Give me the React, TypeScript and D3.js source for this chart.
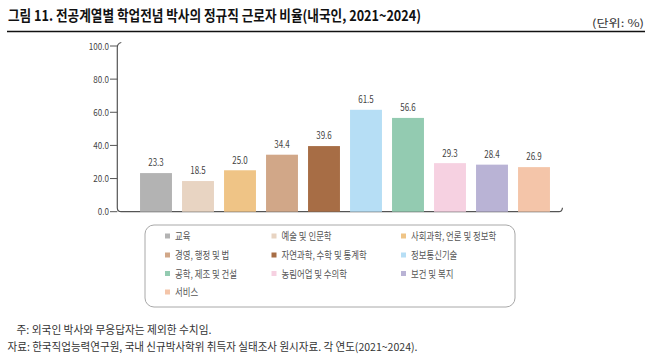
import React from 'react';
import * as d3 from 'd3';

const categories = ['교육', '예술 및 인문학', '사회과학, 언론 및 정보학', '경영, 행정 및 법', '자연과학, 수학 및 통계학', '정보통신기술', '공학, 제조 및 건설', '농림어업 및 수의학', '보건 및 복지', '서비스'];
const values = [23.3, 18.5, 25.0, 34.4, 39.6, 61.5, 56.6, 29.3, 28.4, 26.9];
const colors = ['#b3b3b3', '#e8d4c2', '#efc486', '#d1a788', '#a76d45', '#b6def5', '#93cbb1', '#f6d1e1', '#b9b3d5', '#f4c5a9'];
const yTicks = [0, 20, 40, 60, 80, 100];
const title = '그림 11. 전공계열별 학업전념 박사의 정규직 근로자 비율(내국인, 2021~2024)';
const unitText = '(단위: %)';
const note1 = '주: 외국인 박사와 무응답자는 제외한 수치임.';
const note2 = '자료: 한국직업능력연구원, 국내 신규박사학위 취득자 실태조사 원시자료. 각 연도(2021~2024).';

const FONT = '"Noto Sans CJK KR", "Noto Sans", sans-serif';

function SText({ x, y, s = 0.82, size = 10, fill = '#444', anchor = 'start', weight = 'normal', children }: any) {
  return (
    <text
      transform={`translate(${x},${y}) scale(${s},1)`}
      fontSize={size}
      fill={fill}
      textAnchor={anchor}
      fontWeight={weight}
      fontFamily={FONT}
      dominantBaseline="central"
    >
      {children}
    </text>
  );
}

export default function App() {
  const x = d3.scaleBand<number>().domain(d3.range(categories.length)).range([135, 555]).paddingInner(0.24).paddingOuter(0.12);
  const y = d3.scaleLinear().domain([0, 100]).range([211.7, 46]);
  const axisX = 117.3;
  const y0 = y(0);
  const y100 = y(100);
  const axisPath = `M${axisX + 4},${y100 - 3.5} Q${axisX},${y100 - 2.5} ${axisX},${y100 + 1.5} L${axisX},${y0 - 4} Q${axisX},${y0} ${axisX + 4},${y0} L559,${y0} Q562,${y0} 562.5,${y0 - 4}`;

  const legendCols = [165, 271.5, 401];
  const legendRows = [236, 255, 273.5, 292];

  return (
    <svg width={651} height={357} style={{ position: 'absolute', left: 0, top: 0, background: '#fff' }}>
      <rect width={651} height={357} fill="#fff" />
      {/* title */}
      <text x={8} y={14} fontSize={14.5} fontWeight="bold" fontFamily={FONT} fill="#111" dominantBaseline="central" textLength={413} lengthAdjust="spacingAndGlyphs">
        {title}
      </text>
      <text x={592} y={22} fontSize={10.5} fontFamily={FONT} fill="#333" dominantBaseline="central" textLength={52} lengthAdjust="spacingAndGlyphs">
        {unitText}
      </text>
      <line x1={7} x2={645} y1={31.5} y2={31.5} stroke="#111" strokeWidth={1.6} />

      {/* axes */}
      <path d={axisPath} fill="none" stroke="#555" strokeWidth={1.2} />
      {yTicks.map((t) => (
        <g key={t}>
          <line x1={110} x2={axisX} y1={y(t)} y2={y(t)} stroke="#555" strokeWidth={1} />
          <SText x={109} y={y(t)} anchor="end" size={9.5} s={0.85} fill="#444">
            {t.toFixed(1)}
          </SText>
        </g>
      ))}

      {/* bars */}
      {values.map((v, i) => (
        <g key={i}>
          <rect x={x(i)} y={y(v)} width={x.bandwidth()} height={y0 - y(v)} fill={colors[i]} />
          <SText x={(x(i) as number) + x.bandwidth() / 2} y={y(v) - 10.5} anchor="middle" size={10} s={0.8} fill="#444">
            {v.toFixed(1)}
          </SText>
        </g>
      ))}

      {/* legend */}
      <rect x={145} y={225} width={370} height={82} rx={9} ry={9} fill="none" stroke="#a8a8a8" strokeWidth={1} />
      {categories.map((c, i) => {
        const col = i % 3;
        const row = Math.floor(i / 3);
        const lx = legendCols[col];
        const ly = legendRows[row];
        return (
          <g key={c}>
            <rect x={lx} y={ly - 2.5} width={5} height={5} fill={colors[i]} />
            <SText x={lx + 10} y={ly} size={10.5} s={0.8} fill="#555">
              {c}
            </SText>
          </g>
        );
      })}

      {/* notes */}
      <text x={16.5} y={329} fontSize={11} fontFamily={FONT} fill="#333" dominantBaseline="central" textLength={195} lengthAdjust="spacingAndGlyphs">
        {note1}
      </text>
      <text x={7.5} y={346} fontSize={11} fontFamily={FONT} fill="#333" dominantBaseline="central" textLength={410} lengthAdjust="spacingAndGlyphs">
        {note2}
      </text>
    </svg>
  );
}
